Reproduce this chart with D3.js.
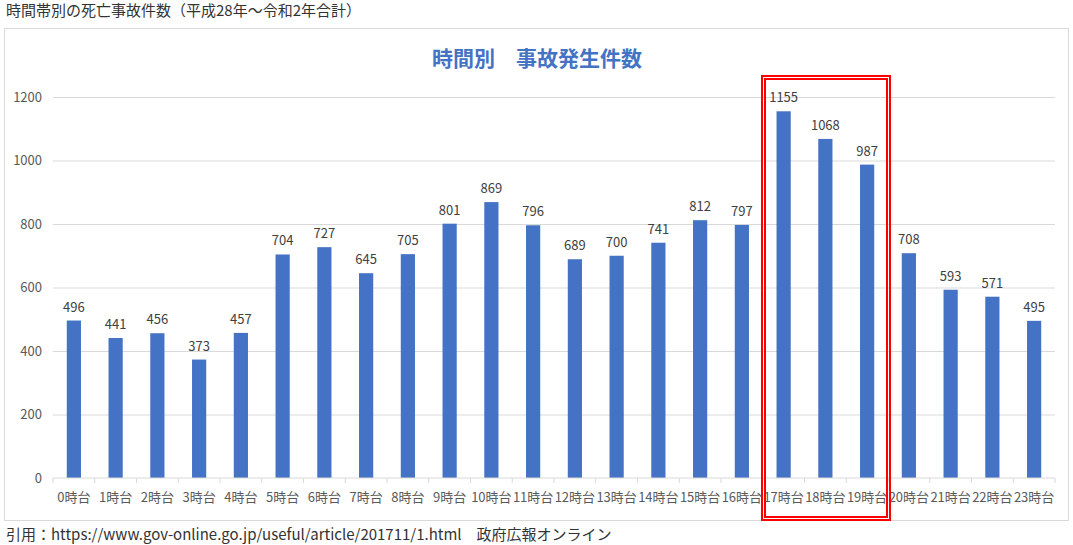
<!DOCTYPE html>
<html lang="ja">
<head>
<meta charset="UTF-8">
<script src="https://d3js.org/d3.v7.min.js"></script>
<style>
  html, body { margin: 0; padding: 0; background: #fff; overflow: hidden; }
  svg text { font-family: "Noto Sans CJK JP", "Noto Sans", sans-serif; }
  .grid line { stroke: #d9d9d9; }
  .grid .domain { display: none; }
  .xaxis .domain, .xaxis line { stroke: #d9d9d9; }
  .yaxis .domain, .yaxis line { display: none; }
  .xaxis text, .yaxis text { fill: #595959; font-size: 13px; }
  .hl { fill: none; stroke: #ff0000; stroke-width: 1.3; shape-rendering: crispEdges; }
</style>
</head>
<body>
<svg id="chart" width="1073" height="545"></svg>
<script>
  // data
  const hours = ["0時台","1時台","2時台","3時台","4時台","5時台","6時台","7時台","8時台","9時台","10時台","11時台",
                 "12時台","13時台","14時台","15時台","16時台","17時台","18時台","19時台","20時台","21時台","22時台","23時台"];
  const counts = [496, 441, 456, 373, 457, 704, 727, 645, 705, 801, 869, 796,
                  689, 700, 741, 812, 797, 1155, 1068, 987, 708, 593, 571, 495];
  const yTicks = [0, 200, 400, 600, 800, 1000, 1200];
  const highlighted = ["17時台", "18時台", "19時台"];

  const svg = d3.select("#chart");
  const plotL = 53, plotR = 1055, plotT = 97, plotB = 478;

  const x = d3.scaleBand().domain(hours).range([plotL, plotR]).paddingInner(0.66).paddingOuter(0.33);
  const xb = d3.scaleBand().domain(hours).range([plotL, plotR]);
  const y = d3.scaleLinear().domain([0, 1200]).range([plotB, plotT]);

  // header / footer
  svg.append("text").attr("x", 6).attr("y", 16).attr("font-size", 15).attr("fill", "#333")
    .text("時間帯別の死亡事故件数（平成28年～令和2年合計）");
  svg.append("text").attr("x", 6).attr("y", 540).attr("font-size", 15).attr("fill", "#333")
    .text("引用：https://www.gov-online.go.jp/useful/article/201711/1.html　政府広報オンライン");

  // chart frame
  svg.append("rect").attr("x", 4.5).attr("y", 28.5).attr("width", 1064).attr("height", 492)
    .attr("fill", "#fff").attr("stroke", "#d9d9d9");

  svg.append("text").attr("x", 537).attr("y", 66).attr("text-anchor", "middle")
    .attr("font-size", 21).attr("font-weight", "bold").attr("fill", "#4472c4")
    .text("時間別　事故発生件数");

  // gridlines
  svg.append("g").attr("class", "grid").attr("transform", `translate(${plotL},0)`)
    .call(d3.axisRight(y).tickValues(yTicks.slice(1)).tickSize(plotR - plotL).tickFormat(""));

  svg.append("g").attr("class", "yaxis").attr("transform", `translate(${plotL - 11},0)`)
    .call(d3.axisLeft(y).tickValues(yTicks).tickFormat(d3.format("d")).tickSize(0).tickPadding(0));

  // bars
  svg.append("g").selectAll("rect").data(hours).join("rect")
    .attr("x", d => x(d)).attr("width", x.bandwidth())
    .attr("y", (d, i) => y(counts[i])).attr("height", (d, i) => plotB - y(counts[i]))
    .attr("fill", "#4472c4");

  svg.append("g").selectAll("text").data(hours).join("text")
    .attr("x", d => x(d) + x.bandwidth() / 2).attr("y", (d, i) => y(counts[i]) - 9)
    .attr("text-anchor", "middle").attr("font-size", 13).attr("fill", "#404040")
    .text((d, i) => counts[i]);

  // x axis with ticks between categories
  const xa = svg.append("g").attr("class", "xaxis").attr("transform", `translate(0,${plotB})`);
  xa.append("line").attr("x1", plotL).attr("x2", plotR).attr("stroke", "#d9d9d9");
  xa.selectAll(".tk").data(d3.range(hours.length + 1)).join("line").attr("class", "tk")
    .attr("x1", i => plotL + i * xb.step()).attr("x2", i => plotL + i * xb.step())
    .attr("y1", 0).attr("y2", 5);
  xa.selectAll("text").data(hours).join("text")
    .attr("x", d => xb(d) + xb.bandwidth() / 2).attr("y", 24)
    .attr("text-anchor", "middle").text(d => d);

  // red double box around the evening hours
  const bx0 = Math.round(xb(highlighted[0])), bx1 = Math.round(xb(highlighted[2]) + xb.bandwidth());
  svg.append("rect").attr("class", "hl").attr("x", bx0 - 1).attr("y", 76).attr("width", bx1 - bx0 + 3).attr("height", 444);
  svg.append("rect").attr("class", "hl").attr("x", bx0 + 2).attr("y", 79).attr("width", bx1 - bx0 - 3).attr("height", 438);
</script>
</body>
</html>
